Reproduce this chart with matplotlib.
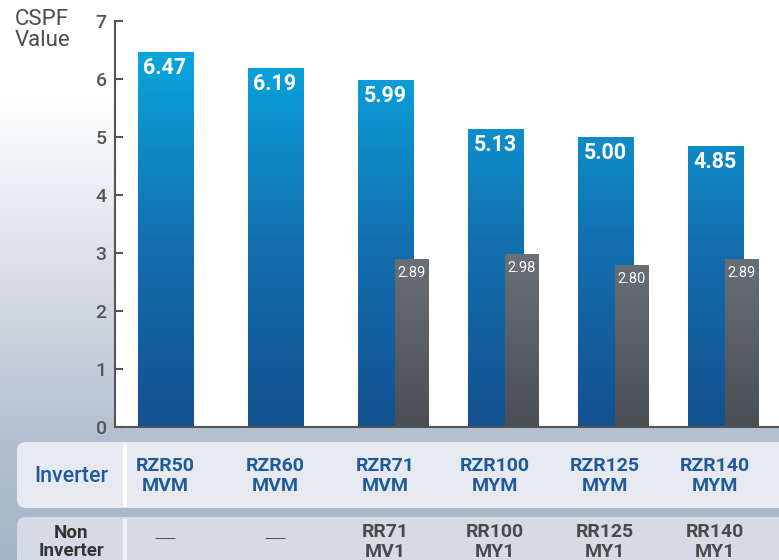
import matplotlib.pyplot as plt
import numpy as np
from matplotlib.patches import FancyBboxPatch
from matplotlib.colors import LinearSegmentedColormap

plt.rcParams["font.family"] = ["Roboto", "DejaVu Sans"]

# Daten
inverter_models = ["RZR50\nMVM", "RZR60\nMVM", "RZR71\nMVM", "RZR100\nMYM", "RZR125\nMYM", "RZR140\nMYM"]
non_inverter_models = ["—", "—", "RR71\nMV1", "RR100\nMY1", "RR125\nMY1", "RR140\nMY1"]
inverter_cspf = [6.47, 6.19, 5.99, 5.13, 5.00, 4.85]
non_inverter_cspf = [None, None, 2.89, 2.98, 2.80, 2.89]
y_ticks = [0, 1, 2, 3, 4, 5, 6, 7]

W, H = 779, 560
fig = plt.figure(figsize=(W / 100, H / 100), dpi=100)

# Hintergrund (Pixelkoordinaten)
bg = fig.add_axes([0, 0, 1, 1], zorder=-10)
bg.set_xlim(0, W)
bg.set_ylim(H, 0)
bg.axis("off")
bg_cmap = LinearSegmentedColormap.from_list("bg", [(0, "#ffffff"), (0.17, "#ffffff"), (0.78, "#b4c0cf"), (1, "#a6b4c7")])
grad = np.linspace(0, 1, 256).reshape(-1, 1)
bg.imshow(grad, cmap=bg_cmap, extent=[0, W, H, 0], aspect="auto", zorder=0)

row1 = FancyBboxPatch((17, 442), 800, 66, boxstyle="round,pad=0,rounding_size=9",
                      fc="#e6e9f0", ec="none", zorder=1)
row2 = FancyBboxPatch((17, 517), 800, 70, boxstyle="round,pad=0,rounding_size=9",
                      fc="#d5dbe5", ec="none", zorder=1)
bg.add_patch(row1)
bg.add_patch(row2)
bg.plot([125, 125], [446, 505], color="#ffffff", lw=3, zorder=2)
bg.plot([125, 125], [521, 560], color="#eef1f5", lw=3, zorder=2)

# Diagramm
ax = fig.add_axes([115 / W, 1 - 427 / H, 1 - 115 / W, 406 / H])
ax.set_facecolor("white")

x = np.arange(len(inverter_models))
blue_w, gray_w, gray_off = 0.5, 0.3, 0.236

blue_cmap = LinearSegmentedColormap.from_list("blue", ["#14508f", "#1270b0", "#0aa6de"])
gray_cmap = LinearSegmentedColormap.from_list("gray", ["#4a4f56", "#8e979e"])

bars_blue = ax.bar(x, inverter_cspf, width=blue_w, color="#1270b0", zorder=2)
xg = [xi + gray_off for xi, v in zip(x, non_inverter_cspf) if v is not None]
vg = [v for v in non_inverter_cspf if v is not None]
bars_gray = ax.bar(xg, vg, width=gray_w, color="#6c737a", zorder=3)

for bars, cmap, z in [(bars_blue, blue_cmap, 2.5), (bars_gray, gray_cmap, 3.5)]:
    for b in bars:
        x0, y0 = b.get_x(), b.get_y()
        x1, y1 = x0 + b.get_width(), y0 + b.get_height()
        im = ax.imshow(grad, cmap=cmap, extent=[x0, x1, 0, 6.5], origin="lower",
                       aspect="auto", zorder=z)
        im.set_clip_path(b)

for b, v in zip(bars_blue, inverter_cspf):
    ax.annotate(f"{v:.2f}", (b.get_x() + b.get_width() / 2, v), xytext=(0, -16),
                textcoords="offset pixels", ha="center", va="center",
                color="white", fontsize=15.5, fontweight="bold", zorder=5)
for b, v in zip(bars_gray, vg):
    ax.annotate(f"{v:.2f}", (b.get_x() + b.get_width() / 2, v), xytext=(0, -14),
                textcoords="offset pixels", ha="center", va="center",
                color="white", fontsize=10.5, zorder=5)

ax.set_xlim(-0.4545, 5.58)
ax.set_ylim(0, 7)
ax.set_yticks(y_ticks)
ax.set_xticks([])
ax.tick_params(axis="y", direction="in", length=6, width=1.5, color="#555555",
               labelcolor="#555555", labelsize=14, pad=6)
for lbl in ax.get_yticklabels():
    lbl.set_fontweight("medium")
for s in ["top", "right"]:
    ax.spines[s].set_visible(False)
for s in ["left", "bottom"]:
    ax.spines[s].set_color("#555555")
    ax.spines[s].set_linewidth(1.5)

# Achsentitel
fig.text(15 / W, 1 - 9 / H, "CSPF\nValue", ha="left", va="top", fontsize=16,
         color="#4d4d4d", linespacing=1.0)

# Tabelle unter dem Diagramm
tr = ax.get_xaxis_transform()
y_row1 = (427 - 476) / 406
y_row2 = (427 - 542) / 406
ax.text(-0.85, y_row1, "Inverter", transform=tr, ha="center", va="center",
        fontsize=15.5, color="#1f5b9b", fontweight="medium", clip_on=False)
ax.text(-0.85, y_row2, "Non\nInverter", transform=tr, ha="center", va="center",
        fontsize=13.5, color="#333333", fontweight="bold", clip_on=False, linespacing=1.0)
for xi, lab in zip(x, inverter_models):
    ax.text(xi, y_row1, lab, transform=tr, ha="center", va="center", fontsize=14,
            color="#1f5b9b", fontweight="bold", clip_on=False, linespacing=1.1)
for xi, lab in zip(x, non_inverter_models):
    if lab == "—":
        ax.text(xi, y_row2, "—", transform=tr, ha="center", va="center", fontsize=22,
                color="#333333", fontweight="light", clip_on=False)
    else:
        ax.text(xi, y_row2, lab, transform=tr, ha="center", va="center", fontsize=14,
                color="#4a4a4a", fontweight="bold", clip_on=False, linespacing=1.1)

fig.savefig("out.png", dpi=100)
